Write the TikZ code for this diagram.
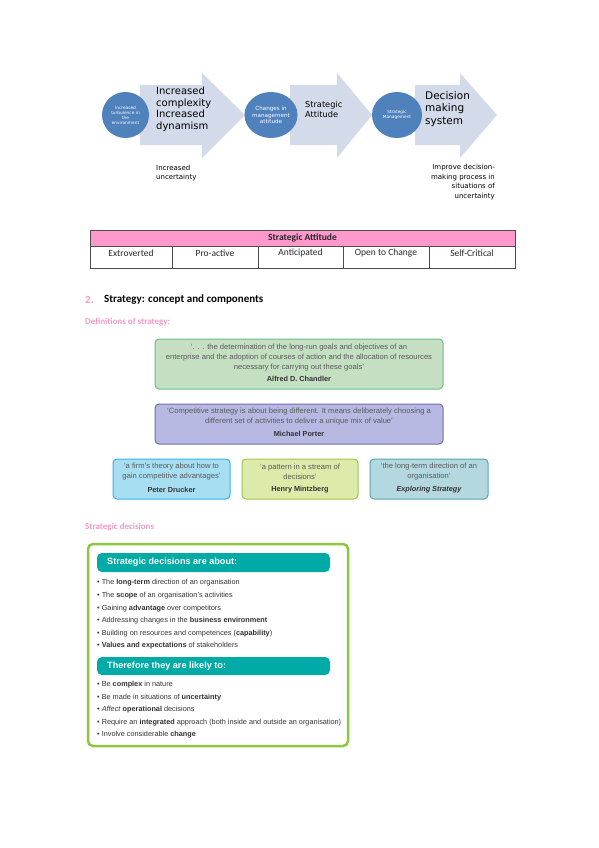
\documentclass[tikz,border=0pt]{standalone}
\usepackage{fontspec}
\setmainfont{Liberation Sans}
\newfontfamily\calfont{Carlito}
\newfontfamily\verfont{DejaVu Sans}
\newfontfamily\arifont{Liberation Sans}
\usetikzlibrary{shapes.geometric}
\definecolor{circblue}{HTML}{4F81BD}
\definecolor{arrowfill}{HTML}{D3DAEA}
\definecolor{tabpink}{HTML}{FF99CC}
\definecolor{headpink}{HTML}{F49AC8}
\definecolor{gfill}{HTML}{C4DFC1}
\definecolor{gdraw}{HTML}{6CBF8A}
\definecolor{pfill}{HTML}{B7B9E3}
\definecolor{pdraw}{HTML}{6F6BB8}
\definecolor{bfill}{HTML}{A8DEF2}
\definecolor{bdraw}{HTML}{37B5E5}
\definecolor{lfill}{HTML}{DCEBAA}
\definecolor{ldraw}{HTML}{9EC74B}
\definecolor{tfill}{HTML}{B3D8DF}
\definecolor{tdraw}{HTML}{5CA3AE}
\definecolor{lime}{HTML}{8DC63F}
\definecolor{teal}{HTML}{00AAA6}
\definecolor{quotegray}{HTML}{5A5A5A}
\tikzset{
  circ/.style={ellipse, fill=circblue, draw=none, text=white, align=center, inner sep=0pt, font=\verfont\fontsize{4.3}{5}\selectfont},
  arrowshape/.style={fill=arrowfill, draw=none},
  bigtxt/.style={inner sep=0pt, align=left, anchor=west, font=\verfont\fontsize{10}{11.5}\selectfont},
  smalltxt/.style={inner sep=0pt, font=\verfont\fontsize{7}{9.7}\selectfont},
  cell/.style={inner sep=0pt, font=\calfont\fontsize{9.5}{11}\selectfont, text=black!85},
  quotebox/.style={rounded corners=4pt, line width=1pt},
  quotetxt/.style={inner sep=0pt, align=center, text=quotegray, font=\arifont\fontsize{7.6}{10}\selectfont},
  authortxt/.style={inner sep=0pt, text=black!80, font=\arifont\bfseries\fontsize{7.3}{9}\selectfont},
  bullettxt/.style={inner sep=0pt, anchor=west, text=black!80, font=\arifont\fontsize{7.3}{8}\selectfont},
  tealhead/.style={fill=teal, rounded corners=5pt, draw=none},
  tealtxt/.style={inner sep=0pt, anchor=west, text=white, font=\arifont\bfseries\fontsize{9.1}{10}\selectfont}
}
\begin{document}
\begin{tikzpicture}[x=1pt,y=-1pt]
\useasboundingbox (0,0) rectangle (599,848);
\fill[white] (0,0) rectangle (599,848);

% ---------- top process diagram ----------
\path[arrowshape] (140,85) -- (202,85) -- (202,73) -- (245,115) -- (202,158) -- (202,145) -- (140,145) -- cycle;
\path[arrowshape] (290,85) -- (337,85) -- (337,73) -- (372,115) -- (337,158) -- (337,145) -- (290,145) -- cycle;
\path[arrowshape] (415,85) -- (460,85) -- (460,73) -- (497,115) -- (460,158) -- (460,145) -- (415,145) -- cycle;

\node[circ, minimum width=47, minimum height=46] (c1) at (125.5,115) {Increased\\turbulence in\\the\\environment};
\node[circ, minimum width=51, minimum height=46, font=\verfont\fontsize{5.6}{6.6}\selectfont] (c2) at (271,115) {Changes in\\management\\attitude};
\node[circ, minimum width=50, minimum height=46] (c3) at (397,115) {Strategic\\Management};

\node[bigtxt] (a1) at (156,109) {Increased\\complexity\\Increased\\dynamism};
\node[bigtxt, font=\verfont\fontsize{8.2}{10}\selectfont] (a2) at (305,109) {Strategic\\Attitude};
\node[bigtxt, font=\verfont\fontsize{10.5}{12.5}\selectfont] (a3) at (425,109) {Decision\\making\\system};

\node[smalltxt, anchor=west, align=left] (u1) at (156,173) {Increased\\uncertainty};
\node[smalltxt, anchor=east, align=right] (u2) at (495,182) {Improve decision-\\making process in\\situations of\\uncertainty};

% ---------- table ----------
\fill[tabpink] (90,230) rectangle (515,246);
\draw[black!70, line width=0.6pt] (90,230) rectangle (515,268);
\draw[black!70, line width=0.6pt] (90,246) -- (515,246);
\foreach \xx in {172,258,343,429} \draw[black!70, line width=0.6pt] (\xx,246) -- (\xx,268);
\node[cell, font=\calfont\bfseries\fontsize{9.5}{11}\selectfont] (th) at (302.5,238) {Strategic Attitude};
\node[cell] (t1) at (131,253) {Extroverted};
\node[cell] (t2) at (215,253) {Pro-active};
\node[cell] (t3) at (300.5,253) {Anticipated};
\node[cell] (t4) at (386,253) {Open to Change};
\node[cell] (t5) at (472,253) {Self-Critical};

% ---------- headings ----------
\node[inner sep=0pt, anchor=west, text=headpink, font=\calfont\bfseries\fontsize{11}{13}\selectfont] (h2n) at (85,300) {2.};
\node[inner sep=0pt, anchor=west, text=black, font=\calfont\bfseries\fontsize{11}{13}\selectfont] (h2) at (104,300) {Strategy: concept and components};
\node[inner sep=0pt, anchor=west, text=headpink, font=\calfont\bfseries\fontsize{9}{11}\selectfont] (hdef) at (85,322) {Definitions of strategy:};
\node[inner sep=0pt, anchor=west, text=headpink, font=\calfont\bfseries\fontsize{9}{11}\selectfont] (hsd) at (85,527) {Strategic decisions};

% ---------- definition boxes ----------
\draw[quotebox, fill=gfill, draw=gdraw] (155,339) rectangle (443,389);
\node[quotetxt] (q1) at (299,358) {‘. . . the determination of the long-run goals and objectives of an\\enterprise and the adoption of courses of action and the allocation of resources\\necessary for carrying out these goals’};
\node[authortxt] (q1a) at (299,379) {Alfred D. Chandler};

\draw[quotebox, fill=pfill, draw=pdraw] (155,404) rectangle (443,444);
\node[quotetxt] (q2) at (299,417) {‘Competitive strategy is about being different. It means deliberately choosing a\\different set of activities to deliver a unique mix of value’};
\node[authortxt] (q2a) at (299,434) {Michael Porter};

\draw[quotebox, fill=bfill, draw=bdraw] (113,459) rectangle (230,499);
\node[quotetxt] (q3) at (171.5,472) {‘a firm’s theory about how to\\gain competitive advantages’};
\node[authortxt] (q3a) at (171.5,490) {Peter Drucker};

\draw[quotebox, fill=lfill, draw=ldraw] (242,459) rectangle (358,499);
\node[quotetxt] (q4) at (300,472) {‘a pattern in a stream of\\decisions’};
\node[authortxt] (q4a) at (300,490) {Henry Mintzberg};

\draw[quotebox, fill=tfill, draw=tdraw] (370,459) rectangle (488,499);
\node[quotetxt] (q5) at (429,472) {‘the long-term direction of an\\organisation’};
\node[authortxt, font=\arifont\bfseries\itshape\fontsize{7.3}{9}\selectfont] (q5a) at (429,490) {Exploring Strategy};

% ---------- strategic decisions box ----------
\draw[draw=lime, line width=2.5pt, rounded corners=5pt, fill=white] (88,544) rectangle (348,746);
\fill[tealhead] (97,553) rectangle (330,572);
\node[tealtxt] (sh1) at (107,562.5) {Strategic decisions are about:};
\node[bullettxt] (b1) at (97,583) {\textbullet\ The \textbf{long-term} direction of an organisation};
\node[bullettxt] (b2) at (97,595.6) {\textbullet\ The \textbf{scope} of an organisation’s activities};
\node[bullettxt] (b3) at (97,608.2) {\textbullet\ Gaining \textbf{advantage} over competitors};
\node[bullettxt] (b4) at (97,620.8) {\textbullet\ Addressing changes in the \textbf{business environment}};
\node[bullettxt] (b5) at (97,633.4) {\textbullet\ Building on resources and competences (\textbf{capability})};
\node[bullettxt] (b6) at (97,646) {\textbullet\ \textbf{Values and expectations} of stakeholders};
\fill[tealhead] (97,657) rectangle (330,675);
\node[tealtxt] (sh2) at (107,666) {Therefore they are likely to:};
\node[bullettxt] (b7) at (97,685) {\textbullet\ Be \textbf{complex} in nature};
\node[bullettxt] (b8) at (97,697.5) {\textbullet\ Be made in situations of \textbf{uncertainty}};
\node[bullettxt] (b9) at (97,710) {\textbullet\ \textit{Affect} \textbf{operational} decisions};
\node[bullettxt] (b10) at (97,722.5) {\textbullet\ Require an \textbf{integrated} approach (both inside and outside an organisation)};
\node[bullettxt] (b11) at (97,735) {\textbullet\ Involve considerable \textbf{change}};
\end{tikzpicture}
\end{document}
